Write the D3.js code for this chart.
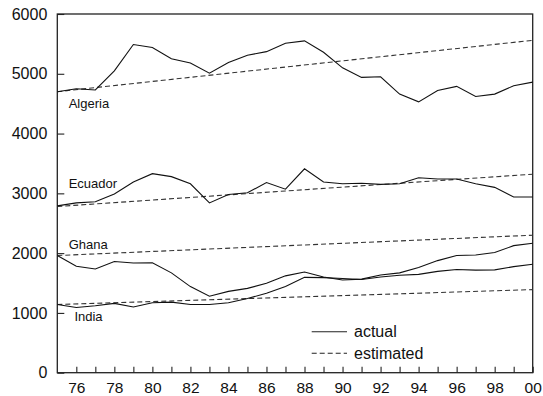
<!DOCTYPE html>
<html>
<head>
<meta charset="utf-8">
<script src="https://cdn.jsdelivr.net/npm/d3@7"></script>
<style>
  body { margin: 0; background: #fff; }
  text { font-family: "Liberation Sans", Arial, sans-serif; fill: #111; }
</style>
</head>
<body>
<script>
// years 1975..2000 (shown as 75..100)
var years = d3.range(75, 101);

// actual values
var algeria = [4700, 4750, 4730, 5050, 5490, 5440, 5250, 5180, 5010, 5190, 5310, 5370, 5510, 5550,
               5360, 5100, 4940, 4950, 4660, 4530, 4720, 4790, 4620, 4660, 4800, 4860];
var ecuador = [2790, 2840, 2860, 2990, 3190, 3330, 3280, 3160, 2840, 2980, 3010, 3180, 3070, 3410,
               3190, 3160, 3170, 3150, 3160, 3260, 3240, 3240, 3160, 3100, 2940, 2940];
var ghana   = [1960, 1780, 1735, 1860, 1835, 1840, 1670, 1440, 1280, 1360, 1410, 1495, 1620, 1685,
               1600, 1550, 1565, 1635, 1670, 1760, 1875, 1960, 1970, 2010, 2125, 2165];
var india   = [1140, 1090, 1120, 1160, 1100, 1170, 1180, 1140, 1140, 1170, 1240, 1330, 1440, 1595,
               1590, 1575, 1560, 1600, 1630, 1645, 1695, 1725, 1715, 1720, 1775, 1815];

// estimated (straight lines): value at 75 and at 100
var estAlgeria = [4700, 5560];
var estEcuador = [2780, 3320];
var estGhana   = [1960, 2300];
var estIndia   = [1140, 1390];

var countries = ["Algeria", "Ecuador", "Ghana", "India"];
// label anchor in data units [year, value]
var labelAt = [[75.6, 4420], [75.6, 3090], [75.6, 2070], [75.9, 860]];

var xTicks = d3.range(76, 101);
var xLabels = d3.range(76, 101, 2);
var yTicks = [0, 1000, 2000, 3000, 4000, 5000, 6000];

var width = 543,
    height = 396,
    margin = {top: 14, right: 10.3, bottom: 23.3, left: 57.3};

var svg = d3.select("body")
    .append("svg")
    .attr("width", width)
    .attr("height", height);

var x = d3.scaleLinear()
    .domain([75, 100])
    .range([margin.left, width - margin.right]);

var y = d3.scaleLinear()
    .domain([0, 6000])
    .range([height - margin.bottom, margin.top]);

// x axis, ticks pointing up into the plot
var xAxis = svg.append("g")
    .attr("transform", "translate(0," + (height - margin.bottom) + ")")
    .call(d3.axisBottom(x)
        .tickValues(xTicks)
        .tickSizeInner(-6)
        .tickSizeOuter(0)
        .tickPadding(9)
        .tickFormat(function(d){
            return xLabels.indexOf(d) >= 0 ? d3.format("02")(d % 100) : "";
        }));

// y axis, ticks pointing right into the plot
var yAxis = svg.append("g")
    .attr("transform", "translate(" + margin.left + ",0)")
    .call(d3.axisLeft(y)
        .tickValues(yTicks)
        .tickSizeInner(-7)
        .tickSizeOuter(0)
        .tickPadding(10)
        .tickFormat(d3.format("d")));

svg.selectAll(".domain").remove();
svg.selectAll(".tick line").attr("stroke", "#222").attr("stroke-width", 1.1);
xAxis.selectAll("text").attr("font-size", 15.5).attr("fill", "#111");
yAxis.selectAll("text").attr("font-size", 16).attr("fill", "#111");

// frame
svg.append("rect")
    .attr("x", margin.left)
    .attr("y", margin.top)
    .attr("width", width - margin.left - margin.right)
    .attr("height", height - margin.top - margin.bottom)
    .attr("fill", "none")
    .attr("stroke", "#222")
    .attr("stroke-width", 1.3);

var line = d3.line()
    .x(function(d, i){ return x(years[i]); })
    .y(function(d){ return y(d); });

var estLine = d3.line()
    .x(function(d, i){ return x(i === 0 ? 75 : 100); })
    .y(function(d){ return y(d); });

var actual = [algeria, ecuador, ghana, india];
var estimated = [estAlgeria, estEcuador, estGhana, estIndia];

svg.selectAll(".est")
    .data(estimated)
    .enter()
    .append("path")
    .attr("class", "est")
    .attr("d", estLine)
    .attr("fill", "none")
    .attr("stroke", "#333")
    .attr("stroke-width", 1.1)
    .attr("stroke-dasharray", "5,3");

svg.selectAll(".actual")
    .data(actual)
    .enter()
    .append("path")
    .attr("class", "actual")
    .attr("d", line)
    .attr("fill", "none")
    .attr("stroke", "#111")
    .attr("stroke-width", 1.1);

// country labels
svg.selectAll(".country")
    .data(countries)
    .enter()
    .append("text")
    .attr("class", "country")
    .attr("x", function(d, i){ return x(labelAt[i][0]); })
    .attr("y", function(d, i){ return y(labelAt[i][1]); })
    .attr("font-size", 13)
    .text(function(d){ return d; });

// legend
var legend = svg.append("g");
var legendItems = [["actual", null], ["estimated", "5,3"]];
legendItems.forEach(function(item, i){
    var ly = 331.7 + i * 21.6;
    legend.append("line")
        .attr("x1", 311.7).attr("x2", 347)
        .attr("y1", ly).attr("y2", ly)
        .attr("stroke", "#222")
        .attr("stroke-width", 1.1)
        .attr("stroke-dasharray", item[1]);
    legend.append("text")
        .attr("x", 354)
        .attr("y", ly)
        .attr("dy", "0.35em")
        .attr("font-size", 16)
        .text(item[0]);
});
</script>
</body>
</html>
